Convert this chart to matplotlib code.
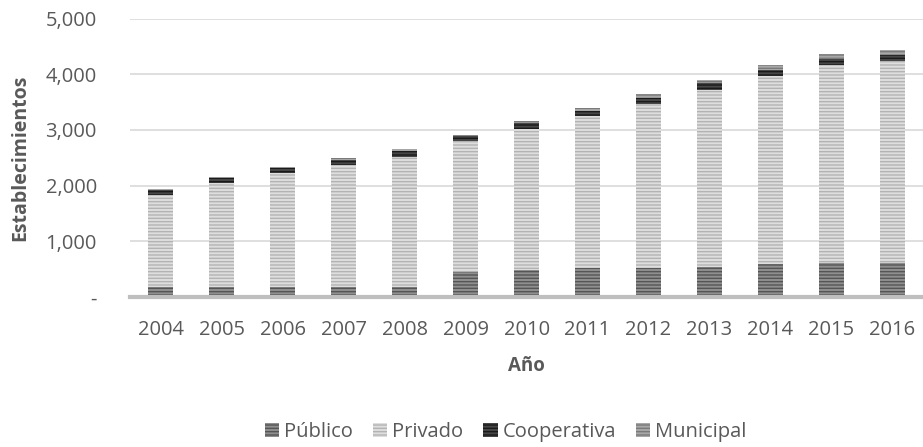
import numpy as np
import matplotlib.pyplot as plt

years = ['2004', '2005', '2006', '2007', '2008', '2009', '2010',
         '2011', '2012', '2013', '2014', '2015', '2016']
publico = [180, 180, 180, 180, 185, 450, 485, 515, 520, 545, 585, 605, 605]
privado = [1645, 1870, 2050, 2190, 2335, 2345, 2530, 2730, 2955, 3180, 3380, 3555, 3630]
cooperativa = [90, 80, 80, 90, 110, 90, 110, 100, 100, 120, 120, 120, 120]
municipal = [15, 30, 30, 30, 30, 30, 45, 50, 70, 60, 90, 90, 75]

series = [('Público', publico, '#8f8f8f', '#555555'),
          ('Privado', privado, '#dedede', '#b3b3b3'),
          ('Cooperativa', cooperativa, '#474747', '#1a1a1a'),
          ('Municipal', municipal, '#a8a8a8', '#7a7a7a')]

plt.rcParams['font.family'] = ['Open Sans', 'DejaVu Sans']
plt.rcParams['hatch.linewidth'] = 1.0
txt = '#595959'

fig = plt.figure(figsize=(9.23, 4.47), dpi=100)
ax = fig.add_axes([0.141, 0.336, 0.859, 0.622])

x = np.arange(len(years))
bottom = np.zeros(len(years))
for name, vals, fc, hc in series:
    ax.bar(x, vals, 0.4, bottom=bottom, color=fc, edgecolor=hc,
           hatch='-----', linewidth=0, label=name, zorder=3)
    bottom += np.array(vals)

ax.set_xlim(-0.5, 12.5)
ax.set_ylim(0, 5000)
ax.set_yticks(range(0, 5001, 1000))
ax.set_yticklabels(['-', '1,000', '2,000', '3,000', '4,000', '5,000'])
ax.set_xticks(x)
ax.set_xticklabels(years)
ax.grid(axis='y', color='#d9d9d9', linewidth=1.2, zorder=0)
for s in ['top', 'right', 'left']:
    ax.spines[s].set_visible(False)
ax.spines['bottom'].set_color('#bfbfbf')
ax.spines['bottom'].set_linewidth(3)
ax.spines['bottom'].set_zorder(4)
ax.tick_params(axis='both', length=0, labelsize=14.5, colors=txt)
ax.tick_params(axis='x', pad=17)
ax.tick_params(axis='y', pad=24)

ax.set_ylabel('Establecimientos', fontsize=14, fontweight='bold', color=txt, labelpad=11)
ax.set_xlabel('Año', fontsize=13.5, fontweight='bold', color=txt, labelpad=11)

fig.legend(loc='center', bbox_to_anchor=(0.548, 0.034), ncol=4, frameon=False,
           fontsize=14.5, labelcolor=txt, handlelength=0.7, handleheight=0.7,
           handletextpad=0.25, columnspacing=1.0)

fig.savefig('out.png', dpi=100)
